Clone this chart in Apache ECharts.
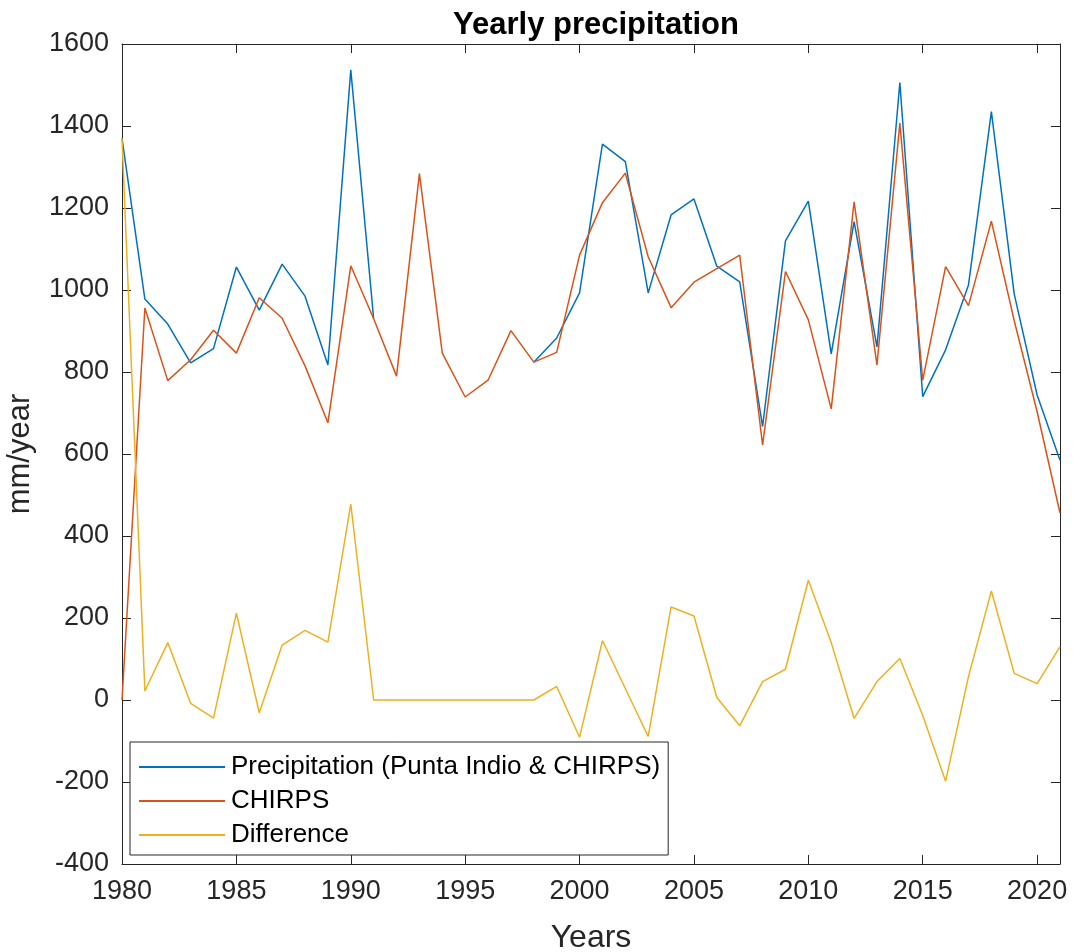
<!DOCTYPE html>
<html>
<head>
<meta charset="utf-8">
<script src="https://cdn.jsdelivr.net/npm/echarts@6/dist/echarts.min.js"></script>
<style>
html,body{margin:0;padding:0;background:#fff;}
#chart{width:1073px;height:952px;}
</style>
</head>
<body>
<div id="chart"></div>
<script>
const years = [1980,1981,1982,1983,1984,1985,1986,1987,1988,1989,1990,1991,1992,1993,1994,1995,1996,1997,1998,1999,2000,2001,2002,2003,2004,2005,2006,2007,2008,2009,2010,2011,2012,2013,2014,2015,2016,2017,2018,2019,2020,2021];
const precipitation = [1370,978,917,822,857,1056,951,1063,985,817,1537,930,null,null,null,null,null,null,824,883,993,1356,1313,993,1183,1222,1058,1020,667,1120,1217,844,1167,861,1506,740,854,1012,1435,990,744,585];
const chirps = [0,956,779,830,902,846,981,931,815,676,1059,930,790,1284,846,739,780,901,824,848,1085,1213,1285,1081,957,1019,1052,1085,622,1045,927,710,1215,817,1407,780,1057,962,1168,925,703,456];
const difference = [1370,22,140,-8,-44,212,-31,134,170,141,478,0,0,0,0,0,0,0,0,33,-91,145,28,-89,227,205,6,-63,45,75,292,140,-45,45,101,-38,-198,57,266,65,40,130];
const seriesNames = ['Precipitation (Punta Indio & CHIRPS)','CHIRPS','Difference'];
const xTicks = [1980,1985,1990,1995,2000,2005,2010,2015,2020];
const yTicks = [-400,-200,0,200,400,600,800,1000,1200,1400,1600];

const pairs = arr => years.map((y,i) => [y, arr[i]]);
const textColor = '#262626';
const font = 'Liberation Sans, Arial, Helvetica, sans-serif';

const chart = echarts.init(document.getElementById('chart'), null, {renderer:'canvas'});
const xCommon = {
  type:'value', min:xTicks[0], max:2021, interval:5,
  axisLine:{show:true, onZero:false, lineStyle:{color:textColor, width:1}},
  axisTick:{show:true, inside:true, length:9, lineStyle:{color:textColor}},
  splitLine:{show:false}
};
const yCommon = {
  type:'value', min:yTicks[0], max:yTicks[yTicks.length-1], interval:200,
  axisLine:{show:true, onZero:false, lineStyle:{color:textColor, width:1}},
  axisTick:{show:true, inside:true, length:9, lineStyle:{color:textColor}},
  splitLine:{show:false}
};
chart.setOption({
  animation:false,
  backgroundColor:'#fff',
  title:{
    text:'Yearly precipitation', left:591, top:5, textAlign:'center',
    textStyle:{fontFamily:font, fontSize:31, fontWeight:'bold', color:'#000'}
  },
  grid:{left:122, right:13, top:44, bottom:88, containLabel:false, outerBoundsMode:'none'},
  legend:{
    orient:'vertical', left:130, top:742,
    padding:[12,8,7,9], itemGap:8,
    itemWidth:86, itemHeight:2, icon:'rect',
    borderColor:textColor, borderWidth:1, backgroundColor:'#fff',
    textStyle:{fontFamily:font, fontSize:26, color:'#000', lineHeight:26, padding:[0,0,0,1]},
    data:seriesNames
  },
  xAxis:[
    Object.assign({}, xCommon, {
      position:'bottom',
      name:'Years', nameLocation:'middle', nameGap:58,
      nameTextStyle:{fontFamily:font, fontSize:32, color:textColor},
      axisLabel:{show:true, margin:14, fontFamily:font, fontSize:27, color:textColor,
        showMaxLabel:false,
        formatter: v => (xTicks.indexOf(v) >= 0 ? String(v) : '')}
    }),
    Object.assign({}, xCommon, {position:'top', axisLabel:{show:false}})
  ],
  yAxis:[
    Object.assign({}, yCommon, {
      position:'left',
      name:'mm/year', nameLocation:'middle', nameGap:86,
      nameTextStyle:{fontFamily:font, fontSize:31, color:textColor},
      axisLabel:{show:true, margin:13, fontFamily:font, fontSize:27, color:textColor,
        formatter: v => String(v)}
    }),
    Object.assign({}, yCommon, {position:'right', axisLabel:{show:false}})
  ],
  series:[
    {name:seriesNames[0], type:'line', data:pairs(precipitation), symbol:'none', showSymbol:false,
     connectNulls:false, lineStyle:{color:'#0072BD', width:1.5}, itemStyle:{color:'#0072BD'}, z:3},
    {name:seriesNames[1], type:'line', data:pairs(chirps), symbol:'none', showSymbol:false,
     lineStyle:{color:'#D95319', width:1.5}, itemStyle:{color:'#D95319'}, z:3},
    {name:seriesNames[2], type:'line', data:pairs(difference), symbol:'none', showSymbol:false,
     lineStyle:{color:'#EDB120', width:1.5}, itemStyle:{color:'#EDB120'}, z:3}
  ]
});
</script>
</body>
</html>
